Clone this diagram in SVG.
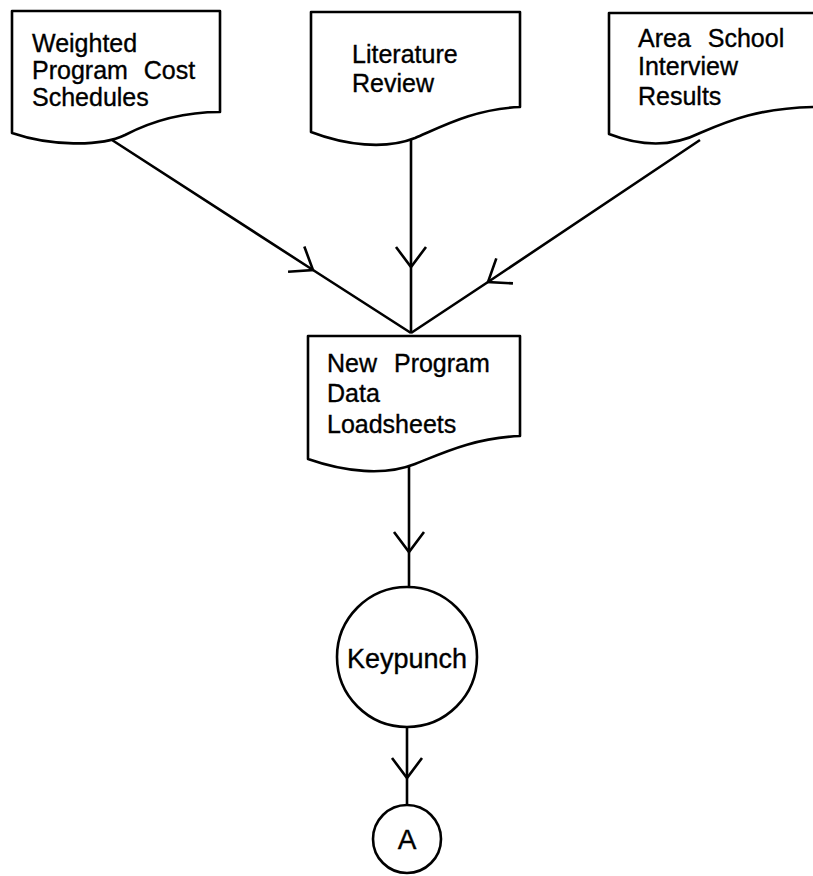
<svg xmlns="http://www.w3.org/2000/svg" width="813" height="876" viewBox="0 0 813 876">
<style>
.shape{fill:#fff;stroke:#000;stroke-width:2.6;stroke-linejoin:round}
.conn{fill:none;stroke:#000;stroke-width:2.6;marker-mid:url(#v)}
.t{font-family:"Liberation Sans",Arial,sans-serif;font-size:25px;fill:#000;stroke:#000;stroke-width:0.35}
</style>
<defs>
<marker id="v" markerUnits="userSpaceOnUse" orient="auto" markerWidth="40" markerHeight="40" refX="0" refY="0" viewBox="-25 -20 30 40" overflow="visible">
<path d="M-20,-15 L0,0 L-20,15" fill="none" stroke="#000" stroke-width="2.6"/>
</marker>
</defs>
<rect width="813" height="876" fill="#fff"/>
<g id="connectors">
<path class="conn" d="M112,140 L313,270 L411,333"/>
<path class="conn" d="M411,140 L411,267 L411,333"/>
<path class="conn" d="M700,140 L488,282 L411,333"/>
<path class="conn" d="M409,466 L409,552 L409,587"/>
<path class="conn" d="M407,727 L407,778 L407,805"/>
</g>
<g id="weighted">
<path class="shape" d="M12,11 L220,11 L220,112 C180,112 150,122 125,135 C100,147 50,146 12,133 Z"/>
<text class="t" x="32" y="52">Weighted</text>
<text class="t" x="32" y="79" word-spacing="9">Program Cost</text>
<text class="t" x="32" y="106">Schedules</text>
</g>
<g id="literature">
<path class="shape" d="M311,12 L520,12 L520,107 C475,109 445,125 415,138 C385,150 345,145 311,132 Z"/>
<text class="t" x="352" y="63">Literature</text>
<text class="t" x="352" y="92">Review</text>
</g>
<g id="areaschool">
<path class="shape" d="M609,13 L815,13 L815,107 C760,108 730,120 700,133 C670,148 640,146 609,134 Z"/>
<text class="t" x="638" y="47" word-spacing="10">Area School</text>
<text class="t" x="638" y="75">Interview</text>
<text class="t" x="638" y="105">Results</text>
</g>
<g id="newprogram">
<path class="shape" d="M308,336 L520,336 L520,436 C475,438 445,452 415,464 C385,476 345,472 308,459 Z"/>
<text class="t" x="327" y="372" word-spacing="10">New Program</text>
<text class="t" x="327" y="402">Data</text>
<text class="t" x="327" y="433">Loadsheets</text>
</g>
<g id="keypunch">
<circle class="shape" cx="407" cy="657" r="70"/>
<text class="t" x="407" y="668" text-anchor="middle" style="font-size:27px">Keypunch</text>
</g>
<g id="connectorA">
<circle class="shape" cx="407" cy="839" r="34"/>
<text class="t" x="407" y="849" text-anchor="middle" style="font-size:28px">A</text>
</g>
</svg>
